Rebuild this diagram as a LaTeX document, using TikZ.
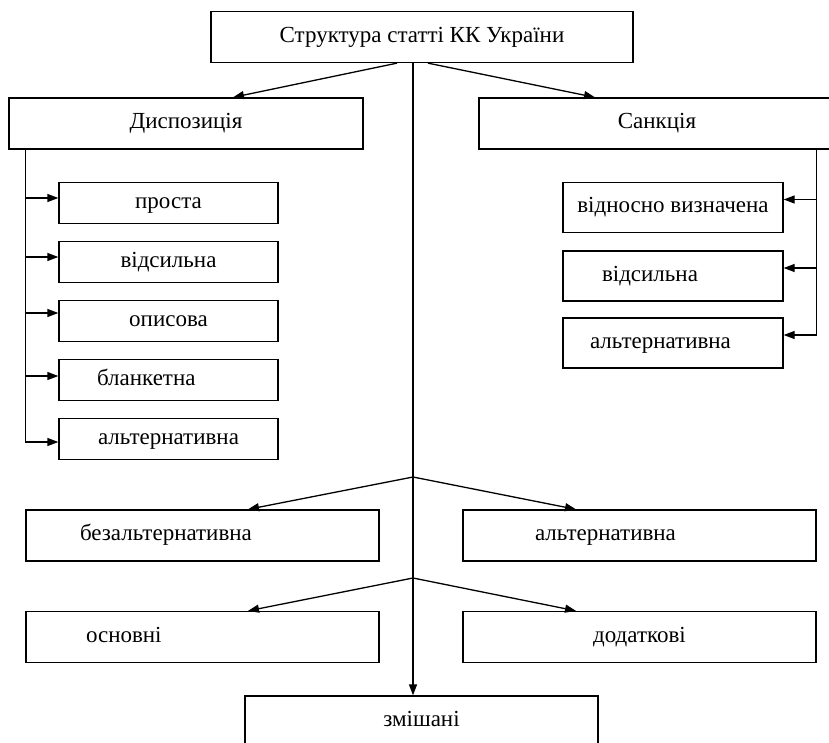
\documentclass[tikz,border=0pt]{standalone}
\usepackage{fontspec}
\setmainfont{Liberation Serif}
\usepackage{tikz}
\usetikzlibrary{arrows.meta, positioning}

\begin{document}
\begin{tikzpicture}[x=1pt, y=-1pt,
  box/.style={draw, line width=1.3pt, inner sep=0pt, minimum height=41pt, text height=10.5pt, text depth=0pt, font=\fontsize{23}{27}\selectfont},
  wide/.style={box, minimum height=51pt},
  lft/.style={text width=#1, align=left},
  conn/.style={line width=1.3pt},
  arr/.style={conn, -{Triangle[length=11pt, width=8pt]}}]
\useasboundingbox (0,0) rectangle (829,743);
\clip (0,0) rectangle (829,743);

% Top
\node[wide, minimum width=422pt] (top) at (422,37) {Структура статті КК України};
\node[wide, minimum width=354pt] (disp) at (186,123.5) {Диспозиція};
\node[wide, minimum width=356pt] (sanc) at (657,123.5) {Санкція};

% Disposition kinds
\node[box, minimum width=219pt] (d1) at (168.5,203) {проста};
\node[box, minimum width=219pt] (d2) at (168.5,262) {відсильна};
\node[box, minimum width=219pt] (d3) at (168.5,321) {описова};
\node[box, minimum width=219pt, lft=143pt] (d4) at (168.5,380) {бланкетна};
\node[box, minimum width=219pt] (d5) at (168.5,439) {альтернативна};

% Sanction kinds
\node[box, minimum width=220pt, minimum height=50pt] (s1) at (673,207.5) {відносно визначена};
\node[box, minimum width=220pt, minimum height=50pt, lft=142pt] (s2) at (673,276) {відсильна};
\node[box, minimum width=220pt, minimum height=50pt, lft=166pt] (s3) at (673,343) {альтернативна};

% Bottom
\node[wide, minimum width=353pt, lft=245pt] (bez) at (202.5,535.5) {безальтернативна};
\node[wide, minimum width=353pt, lft=209pt] (alt) at (639.5,535.5) {альтернативна};
\node[wide, minimum width=353pt, lft=233pt] (osn) at (202.5,637) {основні};
\node[wide, minimum width=353pt] (dod) at (639.5,637) {додаткові};
\node[wide, minimum width=353pt, minimum height=50pt] (mix) at (421.5,721) {змішані};

% Connectors
\coordinate (spine) at ([xshift=-9pt]top.south);
\coordinate (b1) at (413,477);
\coordinate (b2) at (413,578);
\draw[arr] ([xshift=-25pt]top.south) -- ([xshift=47pt]disp.north);
\draw[arr] ([xshift=6pt]top.south) -- ([xshift=-62pt]sanc.north);
\draw[arr] (spine) -- (spine |- mix.north);

\coordinate (dl) at ([xshift=17pt]disp.south west);
\coordinate (d1w) at ([yshift=5pt]d1.west);
\coordinate (d2w) at ([yshift=5pt]d2.west);
\coordinate (d3w) at ([yshift=8pt]d3.west);
\coordinate (d4w) at ([yshift=4pt]d4.west);
\coordinate (d5w) at ([yshift=-3pt]d5.west);
\draw[conn] (dl) -- (dl |- d5w);
\draw[arr] (dl |- d1w) -- (d1w);
\draw[arr] (dl |- d2w) -- (d2w);
\draw[arr] (dl |- d3w) -- (d3w);
\draw[arr] (dl |- d4w) -- (d4w);
\draw[arr] (dl |- d5w) -- (d5w);

\coordinate (sr) at ([xshift=-19pt]sanc.south east);
\coordinate (s1e) at ([yshift=8pt]s1.east);
\coordinate (s2e) at ([yshift=8pt]s2.east);
\coordinate (s3e) at ([yshift=8pt]s3.east);
\draw[conn] (sr) -- (sr |- s3e);
\draw[arr] (sr |- s1e) -- (s1e);
\draw[arr] (sr |- s2e) -- (s2e);
\draw[arr] (sr |- s3e) -- (s3e);

\draw[arr] (b1) -- ([xshift=45.5pt]bez.north);
\draw[arr] (b1) -- ([xshift=-63.5pt]alt.north);
\draw[arr] (b2) -- ([xshift=45.5pt]osn.north);
\draw[arr] (b2) -- ([xshift=-63.5pt]dod.north);
\end{tikzpicture}
\end{document}
